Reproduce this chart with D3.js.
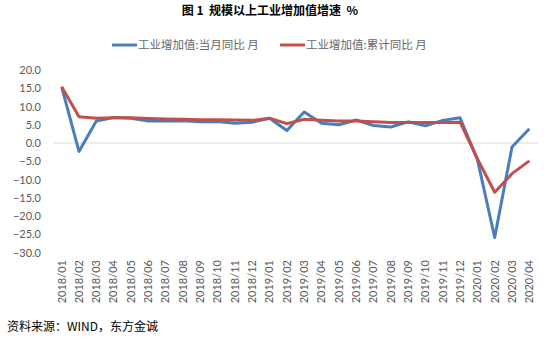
<!DOCTYPE html>
<html><head><meta charset="utf-8">
<script src="https://cdn.jsdelivr.net/npm/d3@7"></script>
<style>body{margin:0;background:#fff} text{white-space:pre}</style>
</head><body><svg id="c" width="550" height="338"></svg>
<script>
const categories = ["2018/01","2018/02","2018/03","2018/04","2018/05","2018/06","2018/07","2018/08","2018/09","2018/10","2018/11","2018/12","2019/01","2019/02","2019/03","2019/04","2019/05","2019/06","2019/07","2019/08","2019/09","2019/10","2019/11","2019/12","2020/01","2020/02","2020/03","2020/04"];
const monthly = [15.4,-2.3,6.0,7.0,6.8,6.0,6.0,6.1,5.8,5.9,5.4,5.7,6.8,3.4,8.5,5.4,5.0,6.3,4.8,4.4,5.8,4.7,6.2,6.9,-4.5,-25.9,-1.1,3.9];
const cumulative = [15.4,7.2,6.8,6.9,6.9,6.7,6.6,6.5,6.4,6.4,6.3,6.2,6.8,5.3,6.5,6.2,6.0,6.0,5.8,5.6,5.6,5.6,5.6,5.7,-4.3,-13.5,-8.4,-4.9];
const yTicks = [20,15,10,5,0,-5,-10,-15,-20,-25,-30];
const seriesNames = ["工业增加值:当月同比 月","工业增加值:累计同比 月"];
const colors = ["#4a7ebb","#c0504d"];
const title = "图 1  规模以上工业增加值增速  %";
const source = "资料来源：WIND，东方金诚";

const svg = d3.select("#c");
const font = "Lato, 'Noto Sans CJK SC', sans-serif";
const x = d3.scaleBand().domain(categories).range([53,538]);
const y = d3.scaleLinear().domain([-30,20]).range([252.5,70]);

svg.append("text").attr("x",270).attr("y",15).attr("text-anchor","middle")
  .attr("font-family","'Noto Sans CJK SC', sans-serif").attr("font-weight","bold").attr("font-size",12).attr("fill","#000").text(title);

// zero line
svg.append("line").attr("x1",53).attr("x2",538).attr("y1",y(0)).attr("y2",y(0)).attr("stroke","#d9d9d9").attr("stroke-width",1);

// y axis
const ya = svg.append("g").attr("transform","translate(47,0)").call(d3.axisLeft(y).tickValues(yTicks).tickFormat(d3.format(".1f")).tickSize(0).tickPadding(6));
ya.select(".domain").remove();
ya.selectAll("text").attr("font-family",font).attr("font-size",11).attr("fill","#595959").attr("x",-6);

// x axis
const xa = svg.append("g").attr("transform","translate(0,256)").call(d3.axisBottom(x).tickSize(0));
xa.select(".domain").remove();
xa.selectAll("text").attr("font-family",font).attr("font-size",11).attr("fill","#595959")
  .attr("transform","rotate(-90)").attr("text-anchor","end").attr("x",-4).attr("y",0).attr("dy","0.35em");

const line = d3.line().x((d,i)=>x(categories[i])+x.bandwidth()/2).y(d=>y(d));
[monthly,cumulative].forEach((s,k)=>{
  svg.append("path").datum(s).attr("d",line).attr("fill","none").attr("stroke",colors[k]).attr("stroke-width",3).attr("stroke-linejoin","round");
});

// legend
const lg = [[112,138],[280,306]];
seriesNames.forEach((n,k)=>{
  svg.append("line").attr("x1",lg[k][0]).attr("x2",lg[k][0]+25).attr("y1",45).attr("y2",45).attr("stroke",colors[k]).attr("stroke-width",3);
  svg.append("text").attr("x",lg[k][1]).attr("y",49).attr("font-family","'Noto Sans CJK SC', sans-serif").attr("font-size",11.5).attr("fill","#666").text(n);
});

svg.append("text").attr("x",7).attr("y",331).attr("font-family","'Noto Sans CJK SC', sans-serif").attr("font-size",12).attr("fill","#000").text(source);
</script></body></html>
